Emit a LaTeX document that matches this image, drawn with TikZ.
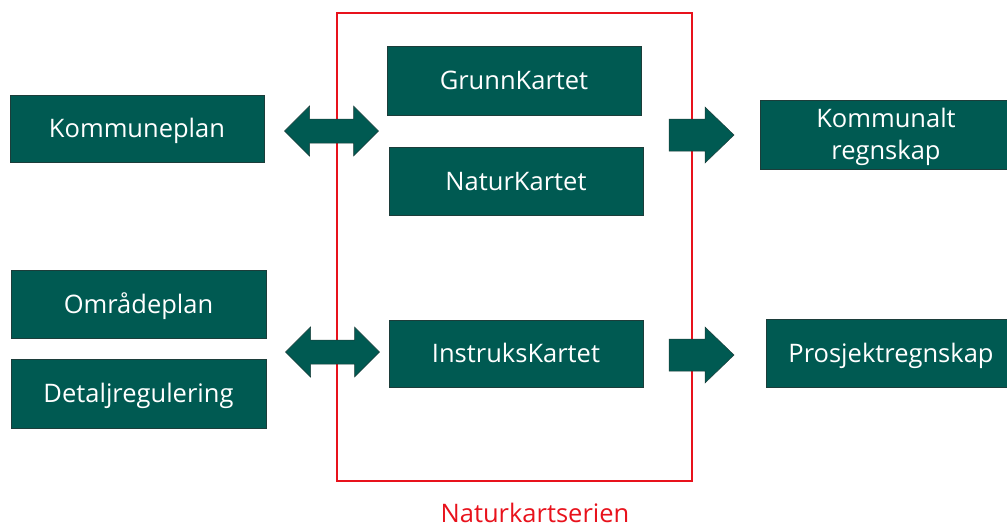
\documentclass[tikz,border=0pt]{standalone}
\usepackage{fontspec}
\setmainfont{Open Sans}
\definecolor{teal}{HTML}{005A52}
\definecolor{tealedge}{HTML}{1C3D3A}
\definecolor{frame}{HTML}{E8121C}
\begin{document}
\begin{tikzpicture}[x=1pt,y=-1pt,
  card/.style={fill=teal,draw=tealedge,line width=0.9pt,text=white,
    inner sep=0pt,align=center,font=\fontsize{25.5}{32}\selectfont},
  oneline/.style={text height=18.2pt,text depth=0pt},
  rarrow/.pic={\fill[teal,draw=tealedge,line width=0.5pt]
    (-32,-16) -- (4,-16) -- (4,-28) -- (33,0) -- (4,28) -- (4,16) -- (-32,16) -- cycle;},
  darrow/.pic={\fill[teal,draw=tealedge,line width=0.5pt]
    (-47,0) -- (-22,-25) -- (-22,-12) -- (22,-12) -- (22,-25) -- (47,0)
    -- (22,25) -- (22,12) -- (-22,12) -- (-22,25) -- cycle;}]
\useasboundingbox (0,0) rectangle (1007,528);

% frame around the map series
\draw[frame,line width=1.1pt] (337,13) rectangle (692,481);
\node[text=frame,inner sep=0pt,oneline,font=\fontsize{25.5}{30}\selectfont] (serie) at (535,513.5) {Naturkartserien};

% planning documents
\node[card,oneline,minimum width=254pt,minimum height=67pt] (kplan) at (137,128.5) {Kommuneplan};
\node[card,oneline,minimum width=255pt,minimum height=68pt] (oplan) at (138.5,304) {Områdeplan};
\node[card,oneline,minimum width=255pt,minimum height=69pt] (dreg) at (138.5,393.5) {Detaljregulering};

% maps
\node[card,oneline,minimum width=254pt,minimum height=69pt] (grunn) at (514,80.5) {GrunnKartet};
\node[card,oneline,minimum width=254pt,minimum height=68pt] (natur) at (516,181) {NaturKartet};
\node[card,oneline,minimum width=254pt,minimum height=67pt] (instr) at (516,353.5) {InstruksKartet};

% accounts
\node[card,minimum width=252pt,minimum height=69pt] (kregn) at (886,134.5) {};
\node[white,inner sep=0pt,align=center,font=\fontsize{25.5}{32}\selectfont]
  at ([yshift=-2.5pt]kregn.center) {Kommunalt\\regnskap};
\node[card,oneline,minimum width=250pt,minimum height=68pt] (pregn) at (891,353) {Prosjektregnskap};

% block arrows between the groups
\coordinate (d1) at (331.5,131);
\coordinate (d2) at (332.5,352);
\coordinate (r1) at (701,135);
\coordinate (r2) at (701,355);
\pic at (d1) {darrow};
\pic at (d2) {darrow};
\pic at (r1) {rarrow};
\pic at (r2) {rarrow};
\end{tikzpicture}
\end{document}
